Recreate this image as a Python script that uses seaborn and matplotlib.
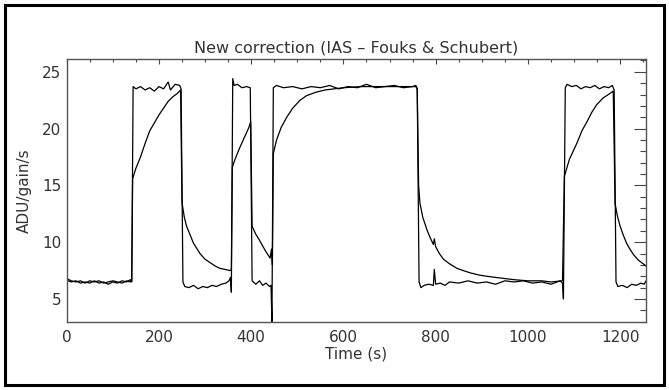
import matplotlib
matplotlib.use("Agg")
import matplotlib.pyplot as plt
from matplotlib.patches import Rectangle
from matplotlib.ticker import MultipleLocator
import pandas as pd
import seaborn as sns

# fast-response curve
time_fast = [0, 3, 10, 20, 30, 40, 50, 60, 70, 80, 90, 100, 110, 120, 130, 138, 141,
             144, 150, 160, 170, 180, 190, 200, 210, 220, 225, 235, 245, 248,
             252, 256, 265, 275, 285, 295, 305, 315, 325, 335, 345, 352, 355, 357,
             360, 363, 370, 380, 390, 398,
             402, 410, 418, 425, 432, 440, 443, 445,
             448, 455, 470, 490, 510, 530, 550, 570, 590, 610, 630, 650, 670, 690,
             710, 730, 750, 757, 760,
             764, 768, 775, 785, 795, 797, 800, 810, 820, 830, 850, 870, 890, 910,
             930, 950, 970, 990, 1010, 1030, 1050, 1070, 1075, 1077,
             1081, 1085, 1095, 1105, 1115, 1125, 1135, 1145, 1155, 1165, 1175, 1183, 1187,
             1191, 1195, 1205, 1215, 1225, 1235, 1245, 1252, 1256]
flux_fast = [7.0, 6.6, 6.5, 6.6, 6.4, 6.5, 6.4, 6.6, 6.4, 6.5, 6.3, 6.5, 6.4, 6.6, 6.5, 6.7, 6.5,
             23.7, 23.5, 23.7, 23.4, 23.6, 23.3, 23.7, 23.5, 24.1, 23.4, 23.9, 23.8, 23.5,
             6.5, 6.1, 6.0, 6.2, 5.9, 6.1, 6.0, 6.2, 6.1, 6.3, 6.4, 6.6, 6.9, 5.6,
             24.4, 23.8, 23.9, 23.6, 23.7, 23.6,
             6.6, 6.3, 6.6, 6.2, 6.4, 6.1, 6.2, 3.0,
             23.6, 23.8, 23.6, 23.7, 23.5, 23.7, 23.6, 23.8, 23.5, 23.7, 23.6, 23.9, 23.6, 23.7,
             23.8, 23.6, 23.7, 23.8, 23.5,
             6.5, 6.0, 6.2, 6.3, 6.2, 7.6, 6.3, 6.4, 6.2, 6.5, 6.4, 6.6, 6.4, 6.5,
             6.3, 6.6, 6.5, 6.6, 6.4, 6.5, 6.3, 6.6, 6.4, 5.0,
             23.6, 23.9, 23.7, 23.8, 23.5, 23.7, 23.6, 23.8, 23.5, 23.7, 23.6, 23.8, 23.4,
             6.5, 6.1, 6.2, 6.0, 6.3, 6.2, 6.4, 6.3, 6.6]

# slow-response curve
time_slow = [0, 10, 20, 30, 40, 50, 60, 70, 80, 90, 100, 110, 120, 130, 138, 141,
             143, 150, 160, 170, 180, 190, 200, 210, 220, 230, 240, 247,
             250, 255, 260, 267, 275, 289, 300, 311, 322, 332, 344, 354, 357,
             359, 365, 375, 385, 395, 399,
             402, 410, 419, 430, 441, 444, 446,
             448, 455, 465, 477, 490, 506, 520, 540, 560, 580, 600, 640, 700, 757, 760,
             763, 766, 772, 781, 788, 795, 797, 800, 808, 817, 830, 846, 860, 875, 895,
             911, 930, 950, 970, 1000, 1030, 1050, 1075,
             1079, 1090, 1106, 1117, 1128, 1138, 1149, 1163, 1178, 1185,
             1189, 1194, 1200, 1207, 1214, 1221, 1229, 1240, 1250, 1256]
flux_slow = [6.8, 6.6, 6.5, 6.6, 6.4, 6.6, 6.5, 6.6, 6.4, 6.5, 6.6, 6.5, 6.4, 6.6, 6.5, 6.6,
             15.6, 16.5, 17.5, 18.7, 19.8, 20.5, 21.2, 21.8, 22.4, 22.8, 23.1, 23.4,
             13.5, 12.2, 11.4, 10.7, 9.9, 9.0, 8.5, 8.2, 7.9, 7.7, 7.6, 7.5, 7.6,
             16.6, 17.3, 18.3, 19.2, 20.1, 20.6,
             11.4, 10.7, 10.1, 9.3, 8.6, 9.4, 8.0,
             17.8, 19.0, 20.1, 21.0, 21.8, 22.5, 22.9, 23.2, 23.4, 23.5, 23.6, 23.7, 23.7, 23.7, 23.5,
             15.0, 13.4, 12.2, 11.1, 10.4, 9.8, 10.3, 9.6, 9.0, 8.5, 8.1, 7.7, 7.5, 7.3, 7.1,
             7.0, 6.9, 6.8, 6.7, 6.6, 6.6, 6.5, 6.6,
             15.8, 17.3, 18.7, 19.8, 20.6, 21.4, 22.1, 22.7, 23.1, 23.3,
             13.4, 12.3, 11.4, 10.6, 9.9, 9.4, 8.9, 8.4, 8.1, 7.9]

fast = pd.DataFrame({"time": time_fast, "flux": flux_fast})
slow = pd.DataFrame({"time": time_slow, "flux": flux_slow})

sns.set_style("white")
plt.rcParams["font.family"] = ["DejaVu Sans"]
text_col = "#333333"

fig = plt.figure(figsize=(6.69, 3.90), dpi=100)
ax = fig.add_axes([0.0997, 0.1751, 0.8659, 0.6728])

sns.lineplot(data=slow, x="time", y="flux", sort=False, estimator=None,
             color="black", linewidth=0.9, ax=ax)
sns.lineplot(data=fast, x="time", y="flux", sort=False, estimator=None,
             color="black", linewidth=0.9, ax=ax)

ax.set_xlim(0, 1256)
ax.set_ylim(3.0, 26.1)
ax.xaxis.set_major_locator(MultipleLocator(200))
ax.xaxis.set_minor_locator(MultipleLocator(50))
ax.yaxis.set_major_locator(MultipleLocator(5))
ax.yaxis.set_minor_locator(MultipleLocator(1))

ax.tick_params(axis="both", which="both", direction="in", top=True, right=True,
               color="#444444", width=0.8, labelsize=11, labelcolor=text_col)
ax.tick_params(axis="x", which="major", length=3.8, pad=6)
ax.tick_params(axis="x", which="minor", length=1.9)
ax.tick_params(axis="y", which="major", length=8.4, pad=4)
ax.tick_params(axis="y", which="minor", length=4.2)
for s in ax.spines.values():
    s.set_color("#555555")
    s.set_linewidth(1.0)

ax.set_title("New correction (IAS \u2013 Fouks & Schubert)", fontsize=11.5,
             color=text_col, pad=5)
ax.set_xlabel("Time (s)", fontsize=11, color=text_col, labelpad=1)
ax.set_ylabel("ADU/gain/s", fontsize=11, color=text_col, labelpad=7)

fig.patches.append(Rectangle((5 / 669, 5 / 390), 659 / 669, 380 / 390,
                             transform=fig.transFigure, fill=False,
                             edgecolor="black", linewidth=2.2))

fig.savefig("out.png", dpi=100)
